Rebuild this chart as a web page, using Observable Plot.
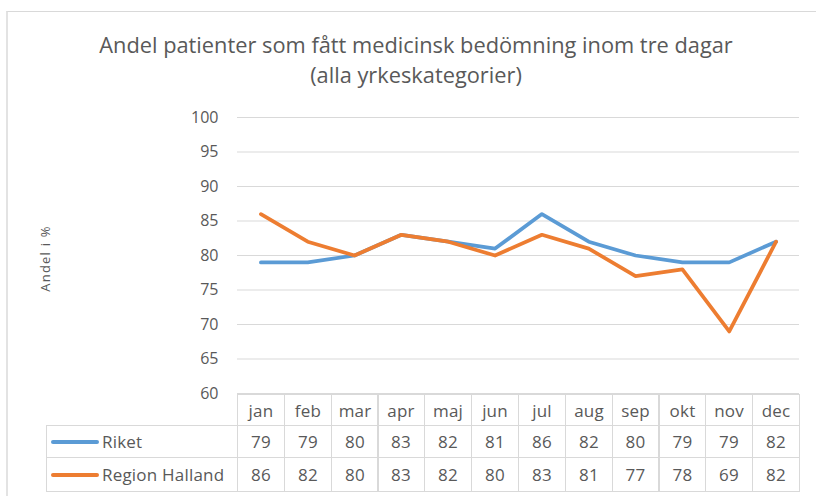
<!DOCTYPE html>
<html>
<head>
<meta charset="utf-8">
<script src="https://cdn.jsdelivr.net/npm/d3@7"></script>
<script src="https://cdn.jsdelivr.net/npm/@observablehq/plot@0.6"></script>
<style>
  html, body { margin: 0; padding: 0; background: #fff; }
  #wrap { position: relative; width: 816px; height: 496px; overflow: hidden; }
  #frame { position: absolute; left: 6px; top: 11px; width: 830px; height: 520px;
           border-top: 1px solid #d9d9d9; border-left: 2px solid #e3e3e3; }
  #title { position: absolute; left: 8px; top: 30px; width: 816px; text-align: center;
           font-family: "Open Sans", sans-serif; font-size: 21.8px; line-height: 30px; color: #595959; }
  #chart { position: absolute; left: 0; top: 0; }
  .cell { position: absolute; box-sizing: border-box; border: 1px solid #d9d9d9;
          font-family: "Open Sans", sans-serif; font-size: 17px; letter-spacing: 0.2px; color: #595959;
          display: flex; align-items: center; justify-content: center; }
  .lab { position: absolute; font-family: "Open Sans", sans-serif; font-size: 17px; letter-spacing: 0.2px; color: #595959; }
  .sw { position: absolute; height: 4px; border-radius: 2px; }
  .ylab { letter-spacing: 1.2px; }
</style>
</head>
<body>
<div id="wrap">
  <div id="frame"></div>
  <div id="title"></div>
  <div id="chart"></div>
</div>
<script>
const titleLines = ["Andel patienter som fått medicinsk bedömning inom tre dagar", "(alla yrkeskategorier)"];
const yLabel = "Andel i %";
const months = ["jan","feb","mar","apr","maj","jun","jul","aug","sep","okt","nov","dec"];
const seriesNames = ["Riket", "Region Halland"];
const riket   = [79, 79, 80, 83, 82, 81, 86, 82, 80, 79, 79, 82];
const halland = [86, 82, 80, 83, 82, 80, 83, 81, 77, 78, 69, 82];
const seriesColors = ["#5B9BD5", "#ED7D31"];
const yTicks = [60, 65, 70, 75, 80, 85, 90, 95, 100];

document.getElementById("title").innerHTML = titleLines.join("<br>");

const seriesValues = [riket, halland];
const data = [];
seriesNames.forEach((s, i) => months.forEach((m, j) => data.push({series: s, month: m, value: seriesValues[i][j]})));

const plot = Plot.plot({
  width: 816,
  height: 420,
  marginTop: 117,
  marginBottom: 27,
  marginLeft: 237,
  marginRight: 17,
  style: {fontFamily: "Open Sans, sans-serif", fontSize: "16px", color: "#595959", background: "transparent"},
  x: {type: "point", domain: months, padding: 0.5, round: false, axis: null},
  y: {domain: [60, 100], ticks: yTicks, tickSize: 0, tickPadding: 19, label: null},
  color: {domain: seriesNames, range: seriesColors},
  marks: [
    Plot.ruleY(yTicks, {stroke: "#d9d9d9", strokeWidth: 1, strokeOpacity: 1}),
    Plot.line(data, {x: "month", y: "value", z: "series", stroke: "series", strokeWidth: 3.75,
                     strokeLinejoin: "round", strokeLinecap: "round"}),
    Plot.text([yLabel], {text: d => d, frameAnchor: "left", textAnchor: "middle", dx: -192, dy: 3, rotate: -90,
                         fontSize: 13, fill: "#595959", className: "ylab"})
  ]
});
document.getElementById("chart").appendChild(plot);

// Data table below the chart, aligned with the chart's x scale
const xs = plot.scale("x");
const step = xs.step || (xs.range[1] - xs.range[0]) / months.length;
const wrap = document.getElementById("wrap");
const rows = [{top: 394, h: 32}, {top: 425, h: 33}, {top: 457, h: 35}];
const tableLeft = 46;
const x0 = xs.apply(months[0]) - step / 2;

function cell(left, top, w, h, text) {
  const d = document.createElement("div");
  d.className = "cell";
  d.style.left = left + "px"; d.style.top = top + "px";
  d.style.width = w + "px"; d.style.height = h + "px";
  d.textContent = text;
  wrap.appendChild(d);
}
months.forEach((m, j) => {
  const cx = xs.apply(m);
  const l = Math.round(cx - step / 2);
  const r = Math.round(cx + step / 2) + 1;
  cell(l, rows[0].top, r - l, rows[0].h, m);
  seriesValues.forEach((vals, i) => cell(l, rows[i + 1].top, r - l, rows[i + 1].h, String(vals[j])));
});
seriesNames.forEach((s, i) => {
  const r = rows[i + 1];
  cell(tableLeft, r.top, Math.round(x0) - tableLeft + 1, r.h, "");
  const sw = document.createElement("div");
  sw.className = "sw";
  sw.style.left = "51px"; sw.style.width = "48px";
  sw.style.top = (r.top + r.h / 2 - 2) + "px";
  sw.style.background = seriesColors[i];
  wrap.appendChild(sw);
  const lb = document.createElement("div");
  lb.className = "lab";
  lb.style.left = "102px";
  lb.style.top = (r.top + r.h / 2 - 12) + "px";
  lb.style.lineHeight = "24px";
  lb.textContent = s;
  wrap.appendChild(lb);
});
</script>
</body>
</html>
